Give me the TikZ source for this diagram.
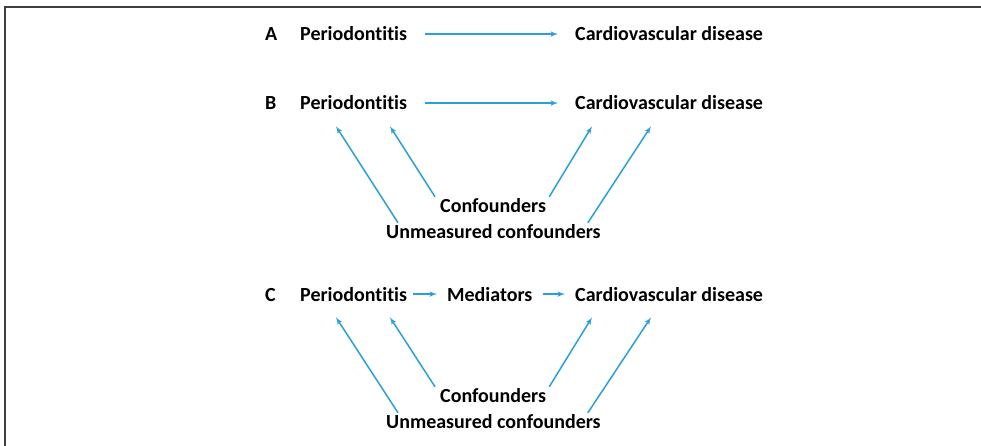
\documentclass[tikz,border=0pt]{standalone}
\usepackage{fontspec}
\setmainfont[Ligatures=NoCommon]{Carlito}
\usetikzlibrary{arrows}
\definecolor{linkblue}{RGB}{41,160,218}

\begin{document}
\begin{tikzpicture}[x=1pt,y=-1pt]
\useasboundingbox (0,0) rectangle (981,446);

\tikzset{term/.style = {anchor=base west,inner sep=0pt,font=\bfseries\fontsize{20}{23}\selectfont}}
\tikzset{edge/.style = {->,> = latex',linkblue,line width=1.5pt}}

% frame
\draw[line width=2pt,black!75] (5,446) -- (5,7.5) -- (981,7.5);

% panel A
\node[term] (labA) at (265,41) {A};
\node[term] (perA) at (300,41) {Periodontitis};
\node[term] (cvdA) at (575,41) {Cardiovascular disease};
\draw[edge,shorten <=18pt,shorten >=17pt] (perA.east) -- (cvdA.west);

% panel B
\node[term] (labB) at (265,110) {B};
\node[term] (perB) at (300,110) {Periodontitis};
\node[term] (cvdB) at (575,110) {Cardiovascular disease};
\node[term] (confB) at (440,212.5) {Confounders};
\node[term] (unmB) at (386,238.5) {Unmeasured confounders};
\draw[edge,shorten <=18pt,shorten >=17pt] (perB.east) -- (cvdB.west);
\draw[edge] ([xshift=12pt,yshift=1.5pt]unmB.north west) -- ([xshift=36pt,yshift=-16pt]perB.south west);
\draw[edge] ([xshift=-5pt,yshift=1.5pt]confB.north west) -- ([xshift=90pt,yshift=-16pt]perB.south west);
\draw[edge] ([xshift=3pt,yshift=1.5pt]confB.north east) -- ([xshift=17pt,yshift=-16pt]cvdB.south west);
\draw[edge] ([xshift=-13pt,yshift=1.5pt]unmB.north east) -- ([xshift=76pt,yshift=-16pt]cvdB.south west);

% panel C
\node[term] (labC) at (265,301) {C};
\node[term] (perC) at (300,301) {Periodontitis};
\node[term] (medC) at (447,301) {Mediators};
\node[term] (cvdC) at (575,301) {Cardiovascular disease};
\node[term] (confC) at (440,402.5) {Confounders};
\node[term] (unmC) at (386,428.5) {Unmeasured confounders};
\draw[edge,shorten <=6pt,shorten >=10pt] (perC.east) -- (medC.west);
\draw[edge,shorten <=10pt,shorten >=10pt] (medC.east) -- (cvdC.west);
\draw[edge] ([xshift=12pt,yshift=1.5pt]unmC.north west) -- ([xshift=36pt,yshift=-16pt]perC.south west);
\draw[edge] ([xshift=-5pt,yshift=1.5pt]confC.north west) -- ([xshift=90pt,yshift=-16pt]perC.south west);
\draw[edge] ([xshift=3pt,yshift=1.5pt]confC.north east) -- ([xshift=17pt,yshift=-16pt]cvdC.south west);
\draw[edge] ([xshift=-13pt,yshift=1.5pt]unmC.north east) -- ([xshift=76pt,yshift=-16pt]cvdC.south west);

\end{tikzpicture}
\end{document}
